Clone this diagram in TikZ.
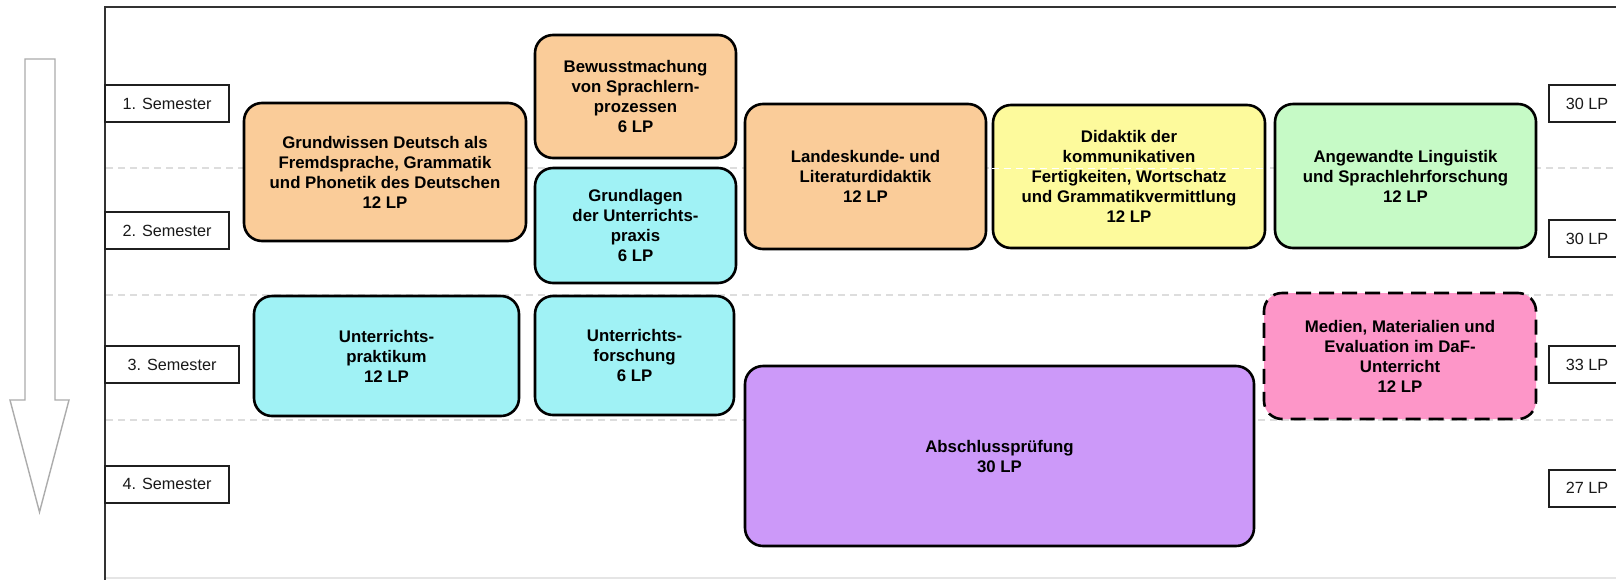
\documentclass[tikz,border=0pt]{standalone}
\usepackage{fontspec}
\setmainfont{Liberation Sans}
\definecolor{cOrange}{HTML}{FACC99}
\definecolor{cCyan}{HTML}{A0F2F5}
\definecolor{cYellow}{HTML}{FDFA9C}
\definecolor{cGreen}{HTML}{C6FAC6}
\definecolor{cPurple}{HTML}{CC99F9}
\definecolor{cPink}{HTML}{FD96C8}
\definecolor{cFrame}{HTML}{333333}
\definecolor{cGrid}{HTML}{DDDDDD}
\begin{document}
\begin{tikzpicture}[x=1pt,y=-1pt,
  modbox/.style={draw=black, line width=2.6pt, rounded corners=18pt, align=center,
    font=\bfseries\fontsize{16.8}{20}\selectfont, text=black, inner sep=0pt},
  sembox/.style={draw=black!88, line width=2pt, fill=white,
    font=\fontsize{16.2}{19}\selectfont, text=black!90, inner sep=0pt, minimum height=37pt},
  gridline/.style={cGrid, line width=1.2pt, dash pattern=on 7pt off 5pt},
  frameline/.style={cFrame, line width=2pt}
]
\useasboundingbox (0,0) rectangle (1616,579);
\clip (0,0) rectangle (1616,579);
\fill[white] (0,0) rectangle (1616,579);

% frame
\coordinate (ftl) at (105,7);
\coordinate (ftr) at (1620,7);
\coordinate (fbl) at (105,580);
\coordinate (fbr) at (1620,578);
\draw[gray!20, line width=1.2pt] (105,578) -- (fbr);
\draw[frameline] (fbl) -- (ftl) -- (ftr);

% grid lines
\coordinate (g1l) at (106,168); \coordinate (g1r) at (1616,168);
\coordinate (g2l) at (106,295); \coordinate (g2r) at (1616,295);
\coordinate (g3l) at (106,420); \coordinate (g3r) at (1616,420);
\draw[gridline] (g1l) -- (g1r);
\draw[gridline] (g2l) -- (g2r);
\draw[gridline] (g3l) -- (g3r);

% time arrow
\draw[gray!65, line width=1.4pt, fill=white, line join=miter]
  (25,59) -- (55,59) -- (55,400) -- (69,400) -- (39.5,512) -- (10,400) -- (25,400) -- cycle;

% semester labels
\node[sembox, minimum width=124pt] (s1) at (167,103.5) {1. Semester};
\node[sembox, minimum width=124pt] (s2) at (167,230.5) {2. Semester};
\node[sembox, minimum width=134pt] (s3) at (172,364.5) {3. Semester};
\node[sembox, minimum width=124pt] (s4) at (167,484) {4. Semester};

% LP labels (cut at right edge)
\node[sembox, minimum width=76pt] (l1) at (1587,103.5) {30 LP};
\node[sembox, minimum width=76pt] (l2) at (1587,238.5) {30 LP};
\node[sembox, minimum width=76pt] (l3) at (1587,364.5) {33 LP};
\node[sembox, minimum width=76pt] (l4) at (1587,488) {27 LP};

% modules
\node[modbox, fill=cOrange, minimum width=282pt, minimum height=138pt] (grund) at (385,172)
  {Grundwissen Deutsch als\\Fremdsprache, Grammatik\\und Phonetik des Deutschen\\12 LP};
\node[modbox, fill=cOrange, minimum width=201pt, minimum height=123pt] (bewusst) at (635.5,96.5)
  {Bewusstmachung\\von Sprachlern-\\prozessen\\6 LP};
\node[modbox, fill=cCyan, minimum width=201pt, minimum height=115pt] (grundl) at (635.5,225.5)
  {Grundlagen\\der Unterrichts-\\praxis\\6 LP};
\node[modbox, fill=cOrange, minimum width=241pt, minimum height=145pt] (landes) at (865.5,176.5)
  {Landeskunde- und\\Literaturdidaktik\\12 LP};
\node[modbox, fill=cYellow, minimum width=272pt, minimum height=143pt] (didak) at (1129,176.5)
  {Didaktik der\\kommunikativen\\Fertigkeiten, Wortschatz\\und Grammatikvermittlung\\12 LP};
\node[modbox, fill=cGreen, minimum width=261pt, minimum height=144pt] (angew) at (1405.5,176)
  {Angewandte Linguistik\\und Sprachlehrforschung\\12 LP};
\node[modbox, fill=cCyan, minimum width=265pt, minimum height=120pt] (prakt) at (386.5,356)
  {Unterrichts-\\praktikum\\12 LP};
\node[modbox, fill=cCyan, minimum width=199pt, minimum height=119pt] (forsch) at (634.5,355.5)
  {Unterrichts-\\forschung\\6 LP};
\node[modbox, fill=cPink, minimum width=272pt, minimum height=126pt,
  dash pattern=on 15pt off 8pt] (medien) at (1400,356)
  {Medien, Materialien und\\Evaluation im DaF-\\Unterricht\\12 LP};
\node[modbox, fill=cPurple, minimum width=509pt, minimum height=180pt] (absch) at (999.5,456)
  {Abschlussprüfung\\30 LP};

% faint grid trace visible across the yellow module
\draw[white, line width=1pt, dash pattern=on 7pt off 5pt] (didak.west |- g1l) -- (didak.east |- g1l);
\end{tikzpicture}
\end{document}
